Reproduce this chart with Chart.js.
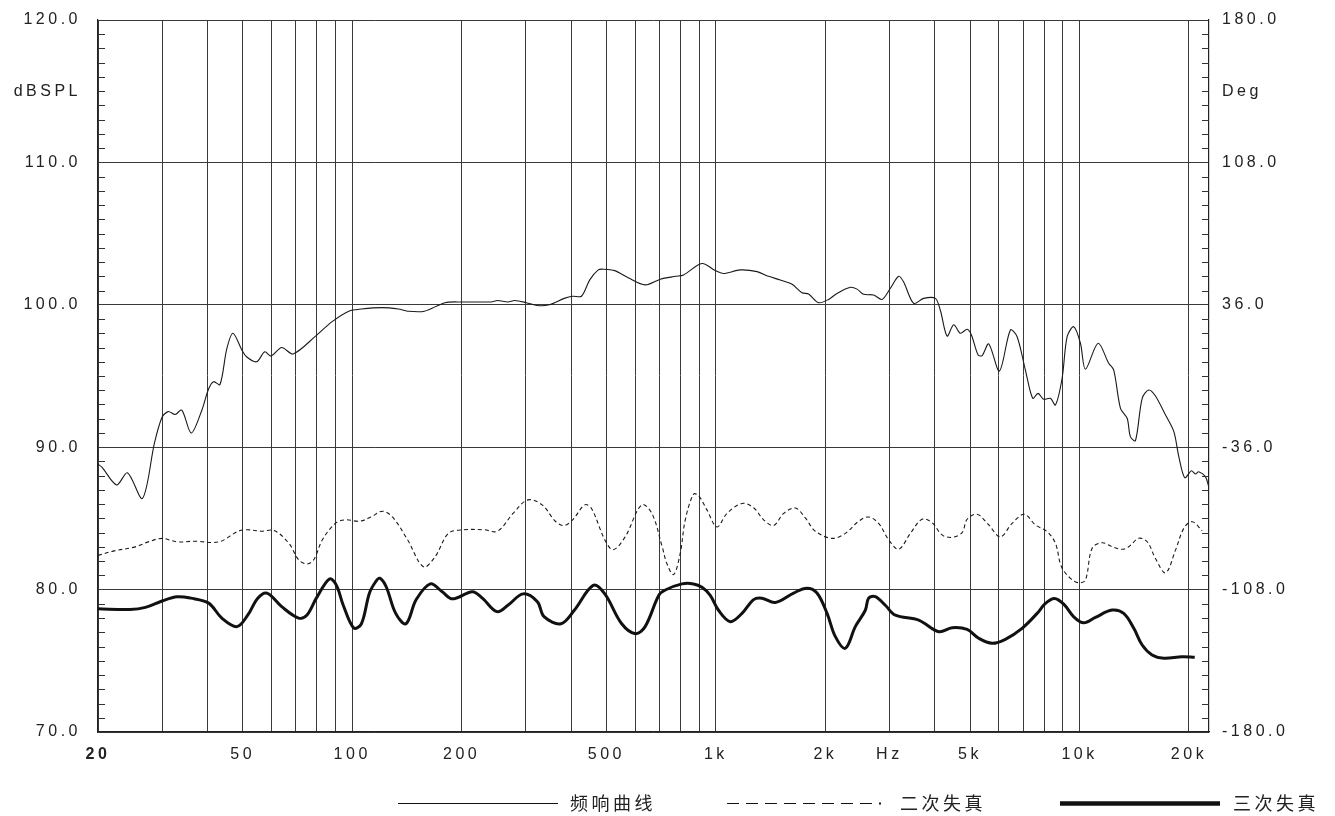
<!DOCTYPE html>
<html>
<head>
<meta charset="utf-8">
<script src="https://cdn.jsdelivr.net/npm/chart.js@4"></script>
<style>
  html, body { margin: 0; padding: 0; background: #fff; }
  canvas { display: block; }
</style>
</head>
<body>
<canvas id="fr" width="1335" height="816"></canvas>
<script>
// frequency response (thin line)
const freqMain = [20, 20.5, 22.5, 24.1, 26.5, 28.6, 30, 31.2, 32.6, 34, 36.1, 38.6, 40.3, 41.6, 43.3, 45.2, 47, 49.8, 51.2, 54.6, 57.5, 59.8, 64, 68.8, 79.3, 87.9, 97.9, 106, 120.6, 134, 142, 158, 180, 200, 241, 251, 268, 280, 301, 323, 348, 383, 404, 427, 450, 475, 490, 527, 574, 639, 704, 776, 815, 916, 996, 1050, 1167, 1298, 1396, 1504, 1620, 1726, 1799, 1916, 2042, 2154, 2343, 2445, 2549, 2716, 2864, 3019, 3182, 3284, 3499, 3728, 4015, 4144, 4324, 4508, 4704, 4908, 5043, 5262, 5397, 5627, 6022, 6455, 6735, 7098, 7434, 7692, 7970, 8318, 8585, 8956, 9245, 9641, 10058, 10380, 11250, 12030, 12420, 12960, 13520, 13800, 14250, 14870, 15500, 16170, 17240, 18170, 18750, 19470, 20310, 20830, 21270, 22190, 22660];
const splMain = [88.8, 88.6, 87.35, 88.2, 86.4, 90.3, 92.1, 92.5, 92.3, 92.6, 91.0, 92.6, 94.1, 94.6, 94.4, 96.9, 98.0, 96.8, 96.35, 96.0, 96.7, 96.4, 97.0, 96.55, 97.8, 98.8, 99.55, 99.7, 99.8, 99.7, 99.55, 99.55, 100.15, 100.2, 100.2, 100.3, 100.2, 100.3, 100.15, 99.95, 100.0, 100.45, 100.6, 100.6, 101.75, 102.45, 102.5, 102.4, 101.9, 101.4, 101.8, 102.0, 102.1, 102.9, 102.4, 102.2, 102.45, 102.33, 102.0, 101.74, 101.44, 100.85, 100.76, 100.15, 100.38, 100.8, 101.23, 101.1, 100.74, 100.69, 100.38, 101.16, 102.0, 101.6, 100.1, 100.45, 100.45, 99.6, 97.8, 98.6, 98.0, 98.28, 97.88, 96.47, 96.43, 97.25, 95.35, 98.23, 97.76, 95.42, 93.43, 93.78, 93.36, 93.43, 92.96, 94.84, 97.76, 98.46, 97.3, 95.47, 97.3, 95.89, 95.42, 92.73, 92.03, 90.74, 90.46, 93.43, 94.02, 93.6, 92.26, 91.09, 89.34, 87.86, 88.35, 88.12, 88.28, 87.93, 87.23];

// 2nd harmonic distortion (dashed)
const freqH2 = [20, 22, 25.3, 27.5, 30, 33, 37, 43, 48.6, 51.6, 56.3, 61, 67, 71.2, 75.1, 78.4, 82.8, 89.9, 95.6, 104.9, 112.6, 121, 129, 142, 157, 169, 184, 203, 231, 251, 277, 304, 333, 362, 383, 404, 436, 455, 495, 522, 563, 625, 667, 712, 734, 765, 798, 824, 868, 896, 945, 1007, 1073, 1180, 1270, 1353, 1441, 1536, 1654, 1762, 1877, 2086, 2270, 2470, 2631, 2803, 2987, 3182, 3426, 3690, 3932, 4188, 4462, 4754, 4908, 5228, 5627, 6059, 6525, 7053, 7562, 8146, 8585, 8917, 9441, 9950, 10380, 10830, 11540, 12290, 13100, 13660, 14550, 15350, 16170, 17240, 18360, 19350, 20410, 21740];
const splH2 = [82.4, 82.7, 83.0, 83.35, 83.6, 83.35, 83.4, 83.35, 84.1, 84.2, 84.1, 84.15, 83.25, 82.1, 81.8, 82.1, 83.5, 84.65, 84.9, 84.8, 85.1, 85.5, 85.1, 83.5, 81.6, 82.3, 83.95, 84.2, 84.2, 84.1, 85.35, 86.3, 85.95, 84.8, 84.5, 84.9, 85.95, 85.7, 83.5, 82.8, 83.7, 85.95, 85.35, 83.0, 81.8, 81.05, 82.55, 84.9, 86.7, 86.6, 85.6, 84.4, 85.35, 86.05, 85.75, 84.9, 84.5, 85.35, 85.73, 85.03, 84.1, 83.6, 83.95, 84.8, 85.1, 84.65, 83.5, 82.83, 83.95, 84.94, 84.7, 83.84, 83.67, 84.0, 84.94, 85.29, 84.54, 83.71, 84.65, 85.29, 84.54, 84.07, 83.25, 81.61, 80.79, 80.48, 80.67, 82.9, 83.29, 83.01, 82.83, 83.01, 83.6, 83.36, 82.19, 81.18, 82.77, 84.3, 84.77, 84.13];

// 3rd harmonic distortion (thick)
const freqH3 = [20, 24.5, 27, 30, 33, 36, 40.3, 43.8, 48.2, 51.6, 55, 58.3, 64, 71.2, 75, 79.7, 86.6, 90.5, 94.5, 101, 106, 111.5, 116, 119, 124, 131.6, 140.5, 150, 164, 176.8, 188.6, 214, 228, 250, 268, 295, 323, 337, 375, 408, 460, 495, 551, 601, 639, 697, 726, 807, 868, 916, 965, 1017, 1096, 1180, 1270, 1339, 1457, 1636, 1780, 1897, 2022, 2131, 2270, 2418, 2576, 2631, 2745, 2924, 3116, 3611, 4100, 4462, 4908, 5282, 5749, 6253, 6951, 7646, 8058, 8531, 9048, 9641, 10270, 11060, 12290, 13230, 14100, 14870, 15830, 17050, 19150, 20740];
const splH3 = [78.65, 78.6, 78.75, 79.2, 79.5, 79.4, 79.05, 78.0, 77.4, 78.2, 79.4, 79.75, 78.8, 78.0, 78.2, 79.4, 80.75, 80.3, 78.9, 77.3, 77.6, 79.75, 80.55, 80.8, 80.2, 78.35, 77.6, 79.3, 80.4, 79.85, 79.35, 79.85, 79.4, 78.45, 78.9, 79.7, 79.15, 78.1, 77.6, 78.55, 80.3, 79.7, 77.6, 76.9, 77.4, 79.6, 79.97, 80.4, 80.4, 80.16, 79.6, 78.55, 77.75, 78.33, 79.3, 79.4, 79.1, 79.76, 80.1, 79.76, 78.33, 76.7, 75.88, 77.4, 78.55, 79.4, 79.5, 78.9, 78.2, 77.86, 77.04, 77.32, 77.2, 76.58, 76.23, 76.51, 77.28, 78.33, 79.03, 79.38, 78.98, 78.09, 77.67, 78.05, 78.56, 78.33, 77.28, 76.11, 75.41, 75.18, 75.29, 75.25];

// axes
const gridFreqs = [20, 30, 40, 50, 60, 70, 80, 90, 100, 200, 300, 400, 500, 600, 700, 800, 900, 1000, 2000, 3000, 4000, 5000, 6000, 7000, 8000, 9000, 10000, 20000];
const freqLabelValues = [20, 50, 100, 200, 500, 1000, 2000, 3000, 5000, 10000, 20000];
const freqLabelTexts = ["20", "50", "100", "200", "500", "1k", "2k", "Hz", "5k", "10k", "20k"];
const splTicks = [70, 80, 90, 100, 110, 115, 120];
const degTicks = [-180, -108, -36, 36, 108, 144, 180];
const legendNames = ["频响曲线", "二次失真", "三次失真"];

const FONT = "'Liberation Sans', Arial, sans-serif";
const INK = "#222";
const NONE = "rgba(0,0,0,0)";

function pts(xs, ys) {
  return xs.map((x, i) => ({ x: x, y: ys[i] }));
}

// canvas letter spacing resets whenever the canvas is resized
function spacing(chart) {
  chart.ctx.letterSpacing = "3.5px";
}

const decor = {
  id: "decor",
  beforeInit: spacing,
  beforeUpdate: spacing,
  beforeDraw(chart) {
    const ctx = chart.ctx;
    spacing(chart);
    ctx.save();
    ctx.fillStyle = "#fff";
    ctx.fillRect(0, 0, chart.width, chart.height);
    ctx.restore();
  },
  afterDraw(chart) {
    const ctx = chart.ctx;
    const a = chart.chartArea;
    const y = chart.scales.y;

    // small inward ticks every 1 dB on both sides
    ctx.save();
    ctx.strokeStyle = "#333";
    ctx.lineWidth = 1;
    ctx.beginPath();
    for (let v = 71; v < 120; v++) {
      if (v % 10 === 0) continue;
      const py = Math.round(y.getPixelForValue(v)) + 0.5;
      ctx.moveTo(a.left, py);
      ctx.lineTo(a.left + 7, py);
      ctx.moveTo(a.right - 7, py);
      ctx.lineTo(a.right, py);
    }
    ctx.stroke();

    // legend
    const ly = 803.5;
    ctx.strokeStyle = "#111";
    ctx.lineWidth = 1.2;
    ctx.beginPath();
    ctx.moveTo(398, ly);
    ctx.lineTo(558, ly);
    ctx.stroke();

    ctx.setLineDash([12, 7]);
    ctx.beginPath();
    ctx.moveTo(727, ly);
    ctx.lineTo(872, ly);
    ctx.stroke();
    ctx.setLineDash([]);
    ctx.fillStyle = "#111";
    ctx.fillRect(879, ly - 1, 2, 2);

    ctx.lineWidth = 4.5;
    ctx.beginPath();
    ctx.moveTo(1060, ly);
    ctx.lineTo(1220, ly);
    ctx.stroke();

    ctx.fillStyle = INK;
    ctx.font = "18px 'Noto Sans CJK SC'";
    ctx.textBaseline = "middle";
    ctx.textAlign = "left";
    ctx.fillText(legendNames[0], 570, ly);
    ctx.fillText(legendNames[1], 900, ly);
    ctx.fillText(legendNames[2], 1233, ly);
    ctx.restore();
  }
};

const chart = new Chart(document.getElementById("fr"), {
  type: "line",
  data: {
    datasets: [
      {
        label: legendNames[0],
        data: pts(freqMain, splMain),
        borderColor: "#1a1a1a",
        borderWidth: 1.1,
        pointRadius: 0,
        tension: 0.3
      },
      {
        label: legendNames[1],
        data: pts(freqH2, splH2),
        borderColor: "#1a1a1a",
        borderWidth: 1.1,
        borderDash: [4, 3],
        pointRadius: 0,
        tension: 0.35
      },
      {
        label: legendNames[2],
        data: pts(freqH3, splH3),
        borderColor: "#111",
        borderWidth: 3,
        pointRadius: 0,
        tension: 0.35
      }
    ]
  },
  options: {
    responsive: false,
    devicePixelRatio: 1,
    animation: false,
    layout: { padding: { top: 20, left: 0, right: 0, bottom: 0 } },
    plugins: {
      legend: { display: false },
      tooltip: { enabled: false }
    },
    scales: {
      x: {
        type: "logarithmic",
        min: 20,
        max: 22700,
        afterBuildTicks(scale) {
          scale.ticks = gridFreqs.map((v) => ({ value: v }));
        },
        afterFit(scale) {
          scale.height = 84;
        },
        grid: { color: "#3a3a3a", lineWidth: 1, drawTicks: true, tickLength: 8, tickColor: NONE },
        border: { display: true, color: "#222", width: 1.2 },
        ticks: {
          autoSkip: false,
          maxRotation: 0,
          padding: 5,
          color: INK,
          font: (c) => ({
            family: FONT,
            size: 16,
            weight: c.tick && c.tick.value === 20 ? "bold" : "normal"
          }),
          callback(value) {
            const i = freqLabelValues.indexOf(value);
            return i >= 0 ? freqLabelTexts[i] : "";
          }
        }
      },
      y: {
        type: "linear",
        position: "left",
        min: 70,
        max: 120,
        afterBuildTicks(scale) {
          scale.ticks = splTicks.map((v) => ({ value: v }));
        },
        afterFit(scale) {
          scale.width = 98;
        },
        grid: {
          color: (c) => (c.tick && c.tick.value % 10 === 0 ? "#3a3a3a" : NONE),
          lineWidth: 1,
          drawTicks: true,
          tickLength: 12,
          tickColor: NONE
        },
        border: { display: true, color: "#222", width: 1.2 },
        ticks: {
          padding: 5,
          color: INK,
          font: { family: FONT, size: 16 },
          callback: (v) => (v === 115 ? "dBSPL" : v.toFixed(1))
        }
      },
      y1: {
        type: "linear",
        position: "right",
        min: -180,
        max: 180,
        afterBuildTicks(scale) {
          scale.ticks = degTicks.map((v) => ({ value: v }));
        },
        afterFit(scale) {
          scale.width = 126;
        },
        grid: { display: true, drawOnChartArea: false, drawTicks: true, tickLength: 8, tickColor: NONE },
        border: { display: true, color: "#222", width: 1.2 },
        ticks: {
          padding: 5,
          color: INK,
          font: { family: FONT, size: 16 },
          callback: (v) => (v === 144 ? "Deg" : v.toFixed(1))
        }
      }
    }
  },
  plugins: [decor]
});
</script>
</body>
</html>
